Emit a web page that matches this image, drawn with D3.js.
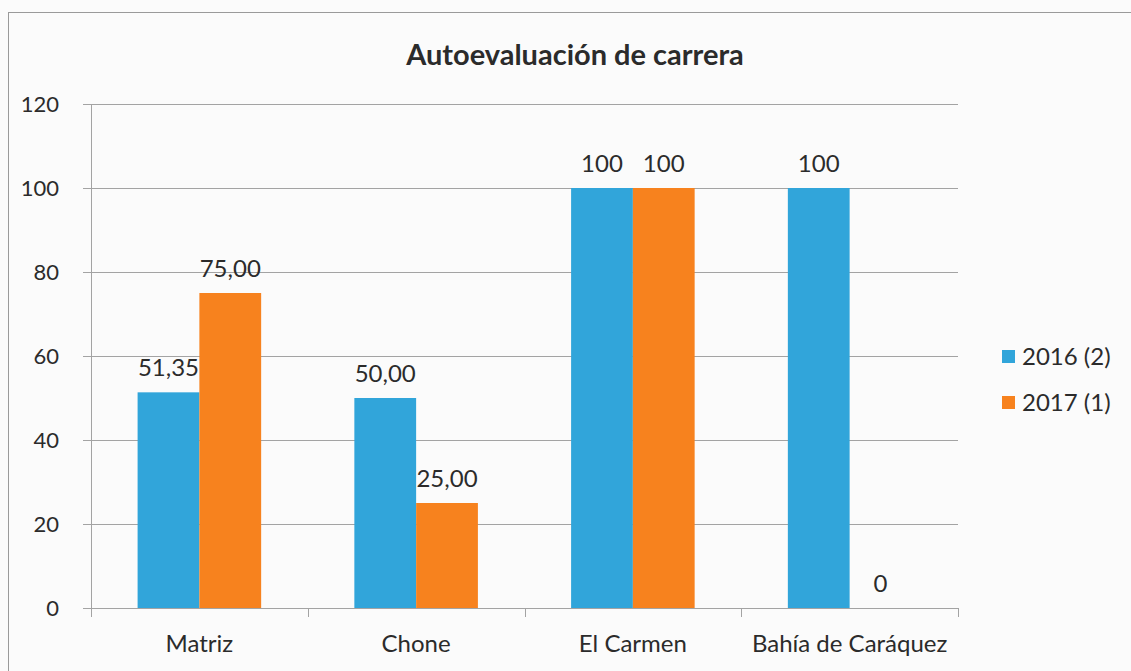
<!DOCTYPE html>
<meta charset="utf-8">
<html>
<head>
	<script src="https://cdn.jsdelivr.net/npm/d3@7/dist/d3.min.js"></script>
	<style>
		body { margin: 0; background: #fbfbfb; }
		text { font-family: Lato, "Open Sans", sans-serif; fill: #2b2b2b; }
	</style>
</head>
<body>
	<div id="chart"></div>
	<script>
	var categories = ["Matriz", "Chone", "El Carmen", "Bahía de Caráquez"];
	var seriesNames = ["2016 (2)", "2017 (1)"];
	var values2016 = [51.35, 50, 100, 100];
	var values2017 = [75, 25, 100, 0];
	var labels2016 = ["51,35", "50,00", "100", "100"];
	var labels2017 = ["75,00", "25,00", "100", "0"];
	var yTicks = [0, 20, 40, 60, 80, 100, 120];
	var colors = ["#31a5da", "#f7821e"];

	var svgWidth = 1131, svgHeight = 671;
	var margin = {top: 104, right: 173, bottom: 63, left: 91},
		graphWidth = svgWidth - margin.left - margin.right,
		graphHeight = svgHeight - margin.top - margin.bottom;

	var svg = d3.select("#chart").append("svg")
		.attr("width", svgWidth)
		.attr("height", svgHeight);

	// chart frame (only top/left visible in the scan)
	svg.append("rect")
		.attr("x", 8.5).attr("y", 12.5)
		.attr("width", svgWidth + 20).attr("height", svgHeight + 20)
		.attr("fill", "none").attr("stroke", "#9a9a9a");

	svg.append("text")
		.attr("x", 575).attr("y", 65)
		.attr("text-anchor", "middle")
		.style("font-size", "29px").style("font-weight", "bold")
		.text("Autoevaluación de carrera");

	var g = svg.append("g")
		.attr("transform", "translate(" + margin.left + "," + margin.top + ")");

	var x0 = d3.scaleBand().domain(categories).range([0, graphWidth]).paddingInner(0.43).paddingOuter(0.215);
	var x1 = d3.scaleBand().domain([0, 1]).range([0, x0.bandwidth()]);
	var y = d3.scaleLinear().domain([0, 120]).range([graphHeight, 0]);

	// gridlines + y labels
	g.append("g")
		.attr("class", "axis axis--y")
		.call(d3.axisLeft(y).tickValues(yTicks).tickSize(-graphWidth).tickPadding(32))
		.call(function(a) {
			a.select(".domain").remove();
			a.selectAll(".tick line").attr("stroke", "#a3a3a3").attr("x1", -8);
			a.selectAll(".tick text").style("font-size", "22px").attr("fill", "#2b2b2b");
		});

	// y axis line
	g.append("line")
		.attr("x1", 0.5).attr("x2", 0.5).attr("y1", 0).attr("y2", graphHeight)
		.attr("stroke", "#a3a3a3");

	var series = [values2016, values2017];
	var labels = [labels2016, labels2017];

	var groups = g.selectAll(".cat")
		.data(categories)
		.enter().append("g")
		.attr("class", "cat")
		.attr("transform", function(d) { return "translate(" + x0(d) + ",0)"; });

	groups.selectAll("rect")
		.data(function(d, i) { return [0, 1].map(function(s) { return {s: s, v: series[s][i]}; }); })
		.enter().append("rect")
		.attr("x", function(d) { return x1(d.s); })
		.attr("width", x1.bandwidth())
		.attr("y", function(d) { return y(d.v); })
		.attr("height", function(d) { return graphHeight - y(d.v); })
		.attr("fill", function(d) { return colors[d.s]; });

	groups.selectAll(".lbl")
		.data(function(d, i) { return [0, 1].map(function(s) { return {s: s, v: series[s][i], t: labels[s][i]}; }); })
		.enter().append("text")
		.attr("class", "lbl")
		.attr("x", function(d) { return x1(d.s) + x1.bandwidth() / 2; })
		.attr("y", function(d) { return y(d.v) - 16; })
		.attr("text-anchor", "middle")
		.style("font-size", "24px")
		.text(function(d) { return d.t; });

	// x axis
	var xAxis = d3.axisBottom(x0).tickSize(0).tickPadding(27);
	var xg = g.append("g")
		.attr("class", "axis axis--x")
		.attr("transform", "translate(0," + graphHeight + ")")
		.call(xAxis);
	xg.select(".domain").attr("stroke", "#a3a3a3");
	xg.selectAll(".tick text").style("font-size", "24px").attr("fill", "#2b2b2b");
	xg.selectAll(".sep")
		.data(d3.range(categories.length + 1))
		.enter().append("line")
		.attr("class", "sep")
		.attr("x1", function(i) { return Math.round(i * graphWidth / categories.length) + 0.5; })
		.attr("x2", function(i) { return Math.round(i * graphWidth / categories.length) + 0.5; })
		.attr("y1", 0).attr("y2", 9)
		.attr("stroke", "#a3a3a3");

	// legend
	var legend = svg.append("g")
		.attr("transform", "translate(1002,350)");
	var items = legend.selectAll("g")
		.data(seriesNames)
		.enter().append("g")
		.attr("transform", function(d, i) { return "translate(0," + (i * 46) + ")"; });
	items.append("rect")
		.attr("width", 13).attr("height", 13)
		.attr("fill", function(d, i) { return colors[i]; });
	items.append("text")
		.attr("x", 20).attr("y", 15)
		.style("font-size", "24px")
		.text(function(d) { return d; });
	</script>
</body>
</html>
